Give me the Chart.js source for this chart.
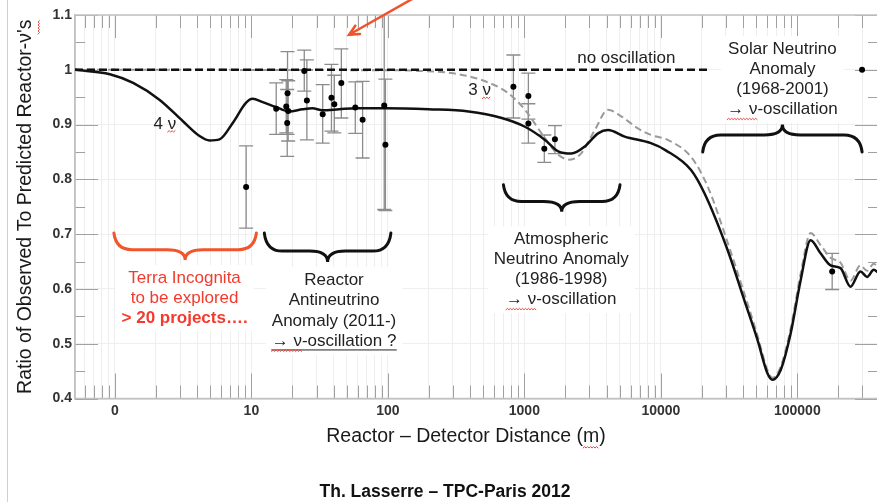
<!DOCTYPE html>
<html>
<head>
<meta charset="utf-8">
<title>Reactor neutrino anomaly</title>
<script src="https://cdn.jsdelivr.net/npm/chart.js@4.4.1/dist/chart.umd.min.js"></script>
<style>
  html, body { margin: 0; padding: 0; background: #fff; overflow: hidden; }
  #wrap { position: relative; width: 882px; height: 502px; }
</style>
</head>
<body>
<div id="wrap"><canvas id="myChart"></canvas></div>
<script>
const FONT = "'Liberation Sans', Arial, Helvetica, sans-serif";

// measured ratios with their error bars (distance in m)
const pointDist = [9.15, 15.2, 18.0, 18.4, 18.3, 18.6, 24.4, 25.5, 33.3, 38.6, 40.5, 45.6, 57.7, 65.3, 94, 95.9, 831, 1070, 1070, 1400, 1675, 180000, 298000];
const pointRatio = [0.786, 0.929, 0.933, 0.957, 0.903, 0.925, 0.998, 0.944, 0.919, 0.949, 0.937, 0.976, 0.931, 0.909, 0.935, 0.863, 0.969, 0.952, 0.902, 0.856, 0.873, 0.632, 1.0];
const pointLow = [0.711, 0.882, 0.885, 0.882, 0.842, 0.870, 0.961, 0.872, 0.866, 0.888, 0.885, 0.912, 0.884, 0.839, 0.745, 0.743, 0.912, 0.910, 0.866, 0.831, 0.847, 0.599, 1.0];
const pointHigh = [0.861, 0.976, 0.982, 1.033, 0.964, 0.980, 1.036, 1.018, 0.973, 1.010, 0.990, 1.038, 0.978, 0.979, 1.125, 0.983, 1.027, 0.994, 0.938, 0.881, 0.898, 0.665, 1.0];

// 4 neutrino (3+1) expectation
const fourNuDist = [0.51, 0.919, 1.36, 2.13, 3.15, 4.17, 4.94, 5.84, 7.30, 9.15, 10.2, 12.1, 15.1, 18.9, 23.7, 28.0, 33.1, 43.9, 58.1, 96.2, 199, 390, 683, 1011, 1416, 1771, 2215, 2773, 3468, 4102, 5430, 8453, 10870, 16640, 20830, 30830, 40820, 51070, 60400, 65700, 75500, 89400, 105800, 125100, 148000, 175100, 207200, 245100, 289900, 324600, 363000, 390000];
const fourNuRatio = [1.000, 0.992, 0.976, 0.945, 0.906, 0.879, 0.871, 0.873, 0.903, 0.940, 0.947, 0.941, 0.932, 0.924, 0.928, 0.930, 0.926, 0.928, 0.930, 0.930, 0.928, 0.924, 0.912, 0.896, 0.872, 0.851, 0.847, 0.860, 0.884, 0.890, 0.878, 0.866, 0.853, 0.817, 0.775, 0.671, 0.580, 0.507, 0.446, 0.434, 0.452, 0.519, 0.616, 0.689, 0.665, 0.643, 0.638, 0.604, 0.632, 0.622, 0.635, 0.630];

// standard 3 neutrino expectation
const threeNuDist = [0.51, 120, 168, 294, 517, 764, 1011, 1337, 1771, 2156, 2620, 3280, 4102, 5130, 6790, 8490, 11250, 16640, 22030, 30830, 40820, 51070, 60400, 65700, 75500, 89400, 105800, 125100, 148000, 175100, 207200, 245100, 289900, 324600, 363000, 390000];
const threeNuRatio = [1.000, 0.999, 0.998, 0.994, 0.979, 0.957, 0.927, 0.884, 0.845, 0.836, 0.848, 0.890, 0.927, 0.915, 0.893, 0.881, 0.872, 0.841, 0.787, 0.685, 0.592, 0.515, 0.452, 0.438, 0.458, 0.528, 0.628, 0.702, 0.680, 0.657, 0.648, 0.615, 0.643, 0.633, 0.646, 0.640];

const noOscDist = [0.51, 22000];
const noOscRatio = [1, 1];

const yTicks = [0.4, 0.5, 0.6, 0.7, 0.8, 0.9, 1.0, 1.1];

function toXY(xs, ys) {
    return xs.map((x, i) => ({ x: x, y: ys[i] }));
}

function isDecade(v) {
    const l = Math.log10(v);
    return Math.abs(l - Math.round(l)) < 1e-9;
}

function squiggle(ctx, x1, x2, y) {
    ctx.beginPath();
    ctx.moveTo(x1, y);
    let up = true;
    for (let x = x1 + 1.5; x <= x2; x += 1.5) {
        ctx.lineTo(x, up ? y - 1.4 : y);
        up = !up;
    }
    ctx.stroke();
}

function brace(ctx, x1, x2, y0, tip, color) {
    const y1 = y0 + (tip - y0) * 0.62;
    const xc = (x1 + x2) / 2;
    const r = Math.min(18, (x2 - x1) / 6);
    ctx.strokeStyle = color;
    ctx.lineWidth = 3;
    ctx.lineCap = "round";
    ctx.beginPath();
    ctx.moveTo(x1, y0);
    ctx.quadraticCurveTo(x1 + 2, y1, x1 + r, y1);
    ctx.lineTo(xc - r, y1);
    ctx.quadraticCurveTo(xc, y1, xc, tip);
    ctx.quadraticCurveTo(xc, y1, xc + r, y1);
    ctx.lineTo(x2 - r, y1);
    ctx.quadraticCurveTo(x2 - 2, y1, x2, y0);
    ctx.stroke();
}

// centred block of lines on a white box
function textBlock(ctx, lines, cx, top, color, step) {
    const sizes = lines.map((l) => {
        ctx.font = (l.bold ? "bold " : "") + "17px " + FONT;
        return ctx.measureText(l.text).width;
    });
    const w = Math.max(...sizes);
    ctx.fillStyle = "#fff";
    ctx.fillRect(cx - w / 2 - 6, top - 13, w + 12, lines.length * step + 6);
    ctx.textAlign = "center";
    ctx.textBaseline = "middle";
    lines.forEach((l, i) => {
        const y = top + i * step;
        ctx.font = (l.bold ? "bold " : "") + "17px " + FONT;
        ctx.fillStyle = color;
        ctx.fillText(l.text, cx, y);
        const left = cx - sizes[i] / 2;
        if (l.underline) {
            ctx.strokeStyle = color;
            ctx.lineWidth = 1;
            ctx.beginPath();
            ctx.moveTo(left, y + 8.5);
            ctx.lineTo(left + sizes[i], y + 8.5);
            ctx.stroke();
        }
        if (l.text.startsWith("→ ν")) {
            ctx.strokeStyle = "#e8463c";
            ctx.lineWidth = 1;
            squiggle(ctx, left, left + ctx.measureText("→ ν").width, y + 10);
        }
    });
}

const errorBars = {
    id: "errorBars",
    beforeDatasetsDraw(chart) {
        const { ctx, chartArea: a, scales: { x, y } } = chart;
        ctx.save();
        ctx.beginPath();
        ctx.rect(a.left, a.top, a.width, a.height);
        ctx.clip();
        ctx.strokeStyle = "#8c8c8c";
        ctx.lineWidth = 1.3;
        pointDist.forEach((d, i) => {
            if (pointLow[i] === pointHigh[i]) return;
            const xp = x.getPixelForValue(d);
            const lo = y.getPixelForValue(pointLow[i]);
            const hi = y.getPixelForValue(pointHigh[i]);
            ctx.beginPath();
            ctx.moveTo(xp, lo);
            ctx.lineTo(xp, hi);
            ctx.moveTo(xp - 7, lo);
            ctx.lineTo(xp + 7, lo);
            ctx.moveTo(xp - 7, hi);
            ctx.lineTo(xp + 7, hi);
            ctx.stroke();
        });
        ctx.restore();
    },
};

// ticks pointing into the plot on all four sides, plus the frame
const frameTicks = {
    id: "frameTicks",
    beforeDatasetsDraw(chart) {
        const { ctx, chartArea: a, scales: { x, y } } = chart;
        ctx.save();
        ctx.strokeStyle = "#a0a0a0";
        ctx.lineWidth = 1;
        ctx.beginPath();
        x.ticks.forEach((t) => {
            const xp = Math.round(x.getPixelForValue(t.value)) + 0.5;
            const major = isDecade(t.value);
            ctx.moveTo(xp, a.bottom);
            ctx.lineTo(xp, a.bottom - (major ? 25 : 13));
            ctx.moveTo(xp, a.top);
            ctx.lineTo(xp, a.top + (major ? 23 : 13));
        });
        for (let k = 0; k <= 14; k++) {
            const v = 0.4 + k * 0.05;
            const yp = Math.round(y.getPixelForValue(v)) + 0.5;
            const len = k % 2 === 0 ? 23 : 10;
            ctx.moveTo(a.left, yp);
            ctx.lineTo(a.left + len, yp);
            ctx.moveTo(a.right, yp);
            ctx.lineTo(a.right - len, yp);
        }
        ctx.stroke();
        ctx.strokeStyle = "#c2c2c2";
        ctx.lineWidth = 1.5;
        ctx.strokeRect(a.left, a.top, a.width, a.height);
        ctx.restore();
    },
};

const slideNotes = {
    id: "slideNotes",
    afterDatasetsDraw(chart) {
        const { ctx, scales: { x, y } } = chart;
        const X = (d) => x.getPixelForValue(d);
        const Y = (v) => y.getPixelForValue(v);
        ctx.save();

        // region braces
        brace(ctx, X(0.983), X(10.88), Y(0.702), Y(0.653), "#f0552c");
        brace(ctx, X(12.44), X(105.2), Y(0.702), Y(0.649), "#111");
        brace(ctx, X(702.6), X(5020), Y(0.790), Y(0.741), "#111");
        brace(ctx, X(20260), X(298200), Y(0.850), Y(0.900), "#111");

        textBlock(ctx, [
            { text: "Terra Incognita" },
            { text: "to be explored" },
            { text: "> 20 projects….", bold: true },
        ], X(3.24), Y(0.620), "#f43a2c", 20);

        textBlock(ctx, [
            { text: "Reactor" },
            { text: "Antineutrino" },
            { text: "Anomaly (2011-)" },
            { text: "→ ν-oscillation ?", underline: true },
        ], X(40.3), Y(0.6164), "#222", 20.5);

        textBlock(ctx, [
            { text: "Atmospheric" },
            { text: "Neutrino Anomaly" },
            { text: "(1986-1998)" },
            { text: "→ ν-oscillation" },
        ], X(1862), Y(0.6908), "#222", 20.2);

        textBlock(ctx, [
            { text: "Solar Neutrino" },
            { text: "Anomaly" },
            { text: "(1968-2001)" },
            { text: "→ ν-oscillation" },
        ], X(77800), Y(1.0378), "#222", 20.2);

        // curve labels
        ctx.font = "17px " + FONT;
        ctx.fillStyle = "#222";
        ctx.textBaseline = "middle";
        ctx.textAlign = "left";
        ctx.fillText("no oscillation", X(2438), Y(1.0214));

        ctx.textAlign = "center";
        [["4 ν", X(2.32), Y(0.901)], ["3 ν", X(469.6), Y(0.962)]].forEach(([t, cx, cy]) => {
            ctx.fillStyle = "#222";
            ctx.fillText(t, cx, cy);
            const w = ctx.measureText(t).width;
            const nu = ctx.measureText("ν").width;
            ctx.strokeStyle = "#e8463c";
            ctx.lineWidth = 1;
            squiggle(ctx, cx + w / 2 - nu, cx + w / 2, cy + 8);
        });

        // arrow from above the frame
        const tx = X(51.9), ty = Y(1.064);
        const sx = X(171), sy = Y(1.137);
        const ang = Math.atan2(ty - sy, tx - sx);
        ctx.strokeStyle = "#f0532c";
        ctx.lineWidth = 2.5;
        ctx.lineCap = "round";
        ctx.beginPath();
        ctx.moveTo(sx, sy);
        ctx.lineTo(tx, ty);
        ctx.moveTo(tx - 11 * Math.cos(ang - 0.45), ty - 11 * Math.sin(ang - 0.45));
        ctx.lineTo(tx, ty);
        ctx.lineTo(tx - 11 * Math.cos(ang + 0.45), ty - 11 * Math.sin(ang + 0.45));
        ctx.stroke();

        // axis caption, footer and page edge
        ctx.font = "19.5px " + FONT;
        ctx.fillStyle = "#1a1a1a";
        ctx.textAlign = "center";
        const cap = "Reactor – Detector Distance (m)";
        ctx.fillText(cap, 466, 437);
        const capLeft = 466 - ctx.measureText(cap).width / 2;
        const mLeft = capLeft + ctx.measureText("Reactor – Detector Distance (").width;
        ctx.strokeStyle = "#e8463c";
        ctx.lineWidth = 1;
        squiggle(ctx, mLeft, mLeft + ctx.measureText("m").width, 448);

        // squiggle under the nu of the rotated y title
        const ttl = chart.options.scales.y.title.text;
        const topEnd = (chart.chartArea.top + chart.chartArea.bottom) / 2 - ctx.measureText(ttl).width / 2;
        ctx.beginPath();
        let right = true;
        for (let yy = topEnd + 1; yy <= topEnd + 15; yy += 1.5) {
            ctx.lineTo(right ? 39.5 : 38.1, yy);
            right = !right;
        }
        ctx.stroke();

        ctx.font = "bold 17.5px " + FONT;
        ctx.fillStyle = "#111";
        ctx.fillText("Th. Lasserre – TPC-Paris 2012", 445, 492);

        ctx.strokeStyle = "#cfcfcf";
        ctx.lineWidth = 1;
        ctx.beginPath();
        ctx.moveTo(7.5, 0);
        ctx.lineTo(7.5, 502);
        ctx.stroke();
        ctx.restore();
    },
};

Chart.defaults.font.family = FONT;

const config = {
    type: "line",
    data: {
        datasets: [
            {
                label: "data",
                data: toXY(pointDist, pointRatio),
                showLine: false,
                pointRadius: 3,
                pointBackgroundColor: "#000",
                pointBorderColor: "#000",
                pointBorderWidth: 0,
            },
            {
                label: "4 nu",
                data: toXY(fourNuDist, fourNuRatio),
                borderColor: "#111",
                borderWidth: 2.5,
                pointRadius: 0,
                cubicInterpolationMode: "monotone",
            },
            {
                label: "no oscillation",
                data: toXY(noOscDist, noOscRatio),
                borderColor: "#111",
                borderWidth: 2.5,
                borderDash: [8, 4],
                pointRadius: 0,
            },
            {
                label: "3 nu",
                data: toXY(threeNuDist, threeNuRatio),
                borderColor: "#9b9b9b",
                borderWidth: 2,
                borderDash: [7, 4],
                pointRadius: 0,
                cubicInterpolationMode: "monotone",
            },
        ],
    },
    options: {
        responsive: true,
        maintainAspectRatio: false,
        animation: false,
        layout: { padding: { top: 15, right: 1, left: 0, bottom: 0 } },
        plugins: { legend: { display: false }, tooltip: { enabled: false } },
        scales: {
            x: {
                type: "logarithmic",
                min: 0.51,
                max: 390000,
                afterBuildTicks(scale) {
                    const ticks = [];
                    for (let e = -1; e <= 5; e++) {
                        for (let m = 1; m <= 9; m++) {
                            const v = Number(m + "e" + e);
                            if (v >= scale.min && v <= scale.max) ticks.push({ value: v });
                        }
                    }
                    scale.ticks = ticks;
                },
                afterFit(scale) {
                    scale.height = 103.5;
                },
                ticks: {
                    autoSkip: false,
                    maxRotation: 0,
                    padding: 4,
                    color: "#333",
                    font: { size: 14, weight: "bold" },
                    callback: (v) => (isDecade(v) ? (v === 1 ? "0" : String(Math.round(v))) : ""),
                },
                grid: { color: "#eeeeee", drawTicks: false },
                border: { color: "#c2c2c2", width: 1.5 },
            },
            y: {
                min: 0.4,
                max: 1.1,
                afterBuildTicks(scale) {
                    scale.ticks = yTicks.map((v) => ({ value: v }));
                },
                afterFit(scale) {
                    scale.width = 75;
                },
                ticks: {
                    padding: 3,
                    color: "#333",
                    font: { size: 14, weight: "bold" },
                    callback: (v) => String(Number(v.toFixed(1))),
                },
                grid: { color: "#efefef", drawTicks: false },
                border: { color: "#c2c2c2", width: 1.5 },
                title: {
                    display: true,
                    text: "Ratio of Observed To Predicted Reactor-ν's",
                    color: "#1a1a1a",
                    font: { size: 19.5 },
                    padding: { top: 14, bottom: 0 },
                },
            },
        },
    },
    plugins: [errorBars, frameTicks, slideNotes],
};

const myChart = new Chart(document.getElementById("myChart"), config);
</script>
</body>
</html>
